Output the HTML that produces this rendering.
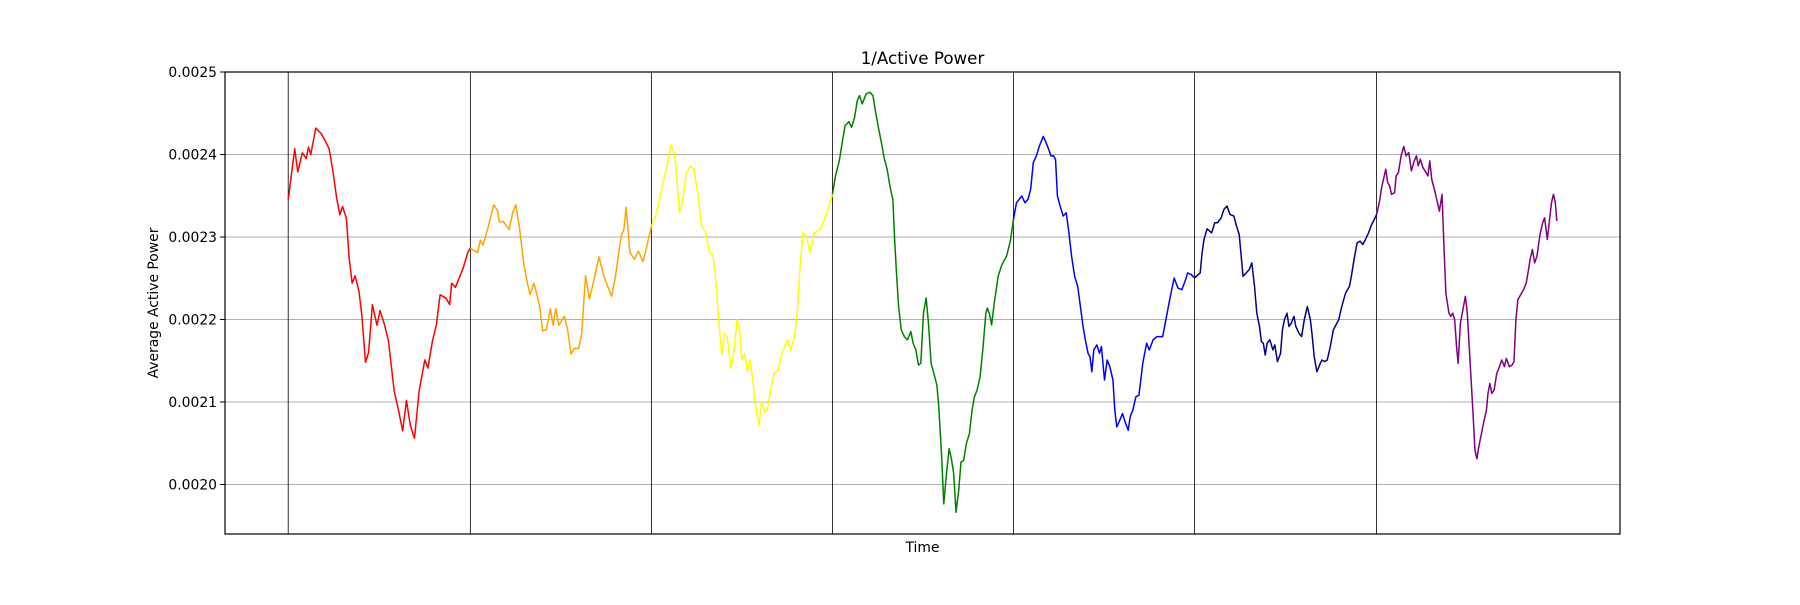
<!DOCTYPE html>
<html><head><meta charset="utf-8"><style>
html,body{margin:0;padding:0;background:#fff;}
svg text{font-family:"DejaVu Sans","Liberation Sans",sans-serif;fill:#000;}
</style></head><body>
<svg id="chart" width="1800" height="600" viewBox="0 0 1800 600" xmlns="http://www.w3.org/2000/svg">
<rect width="1800" height="600" fill="#fff"/>
<text x="922.5" y="64" font-size="16.7" text-anchor="middle">1/Active Power</text>
<text x="922.5" y="552" font-size="13.9" text-anchor="middle">Time</text>
<text transform="translate(158,303) rotate(-90)" font-size="13.9" text-anchor="middle">Average Active Power</text>
<g id="grid"></g><g id="vlines"></g><g id="series"></g><g id="yticks"></g>
<rect x="225" y="72" width="1395" height="462" fill="none" stroke="#000" stroke-width="1.2"/>
</svg>
<script>
const yTicks=[0.0020,0.0021,0.0022,0.0023,0.0024,0.0025];
const yTickLabels=["0.0020","0.0021","0.0022","0.0023","0.0024","0.0025"];
const seriesNames=["red","orange","yellow","green","blue","darkblue","purple"];
const seriesColors=["#ff0000","#ffa500","#ffff00","#008000","#0000ff","#00008b","#800080"];
const periodStarts=[0,476,949,1422,1895,2368,2844];
const seriesOffsets=[-753,-753,815,815,815,2383,2383];
const tRed=[753,770,778,790,800,806,812,825,840,860,870,880,888,895,905,912,920,928,938,945,955,963,973,985,993,1005,1015,1030,1040,1052,1062,1072,1083,1095,1110,1118,1130,1140,1150,1165,1175,1180,1190,1210,1222,1229];
const vRed=[0.002345,0.002407,0.002379,0.002402,0.002395,0.002409,0.0024,0.002432,0.002425,0.002407,0.002379,0.002346,0.002327,0.002337,0.002323,0.002276,0.002244,0.002253,0.002234,0.002207,0.002148,0.00216,0.002218,0.002193,0.002211,0.002193,0.002174,0.002113,0.002093,0.002065,0.002102,0.002072,0.002056,0.002113,0.002151,0.002141,0.002174,0.002193,0.00223,0.002226,0.002218,0.002244,0.002239,0.002262,0.002281,0.002287];
const tOrange=[1229,1248,1255,1262,1275,1290,1300,1305,1315,1330,1340,1348,1358,1368,1378,1385,1395,1403,1410,1418,1428,1438,1445,1452,1460,1475,1483,1492,1500,1512,1520,1530,1540,1550,1565,1578,1588,1598,1608,1623,1630,1636,1646,1658,1668,1680,1688,1702];
const vOrange=[0.0022865,0.002281,0.002296,0.00229,0.002311,0.002339,0.002332,0.002318,0.002319,0.002309,0.00233,0.002339,0.002309,0.002269,0.002244,0.00223,0.002244,0.00223,0.002216,0.002186,0.002188,0.002213,0.002193,0.002213,0.002193,0.002204,0.002188,0.002158,0.002165,0.002165,0.002183,0.002253,0.002225,0.002244,0.002276,0.002252,0.00224,0.002228,0.002252,0.002301,0.002309,0.002336,0.002281,0.002273,0.002283,0.00227,0.002285,0.002313];
const tYellow=[134,145,155,165,175,185,195,202,208,215,225,235,245,255,265,275,285,295,300,310,318,325,332,342,350,358,365,370,378,385,392,400,405,415,422,430,437,445,455,465,475,490,498,508,515,522,530,540,548,560,575,590,607];
const vYellow=[0.0023132,0.0023254,0.0023456,0.002368,0.0023862,0.0024114,0.0024004,0.0023619,0.0023294,0.0023416,0.0023781,0.0023854,0.0023822,0.0023538,0.0023132,0.0023071,0.0022828,0.0022767,0.0022604,0.0021996,0.002157,0.0021834,0.0021793,0.0021408,0.0021631,0.0021996,0.0021874,0.0021509,0.002159,0.0021367,0.0021509,0.0021225,0.0020982,0.0020718,0.0021002,0.002088,0.0020901,0.0021144,0.0021347,0.0021387,0.002159,0.0021753,0.0021631,0.0021793,0.0022077,0.0022604,0.0023051,0.002301,0.0022807,0.0023051,0.0023091,0.0023254,0.0023517];
const tGreen=[607,615,625,632,640,650,657,665,672,678,685,695,705,713,720,728,735,742,750,758,765,770,775,780,787,795,803,812,818,825,832,838,845,852,858,865,872,880,885,893,898,905,912,918,924,930,937,943,950,957,965,972,978,985,993,1000,1008,1012,1018,1023,1030,1040,1050,1062,1072,1080];
const vGreen=[0.0023517,0.002374,0.0023923,0.0024126,0.0024349,0.0024398,0.0024329,0.002445,0.0024653,0.0024714,0.0024613,0.0024734,0.0024755,0.0024714,0.0024511,0.0024308,0.0024146,0.0023963,0.0023822,0.0023598,0.0023456,0.0022929,0.0022523,0.0022158,0.0021874,0.0021793,0.0021753,0.0021854,0.0021712,0.0021631,0.0021448,0.0021469,0.0022077,0.002226,0.0021955,0.0021469,0.0021347,0.0021205,0.0020941,0.0020292,0.0019765,0.002013,0.0020434,0.0020312,0.002013,0.0019663,0.0019927,0.0020272,0.0020292,0.0020495,0.0020617,0.0020901,0.0021063,0.0021144,0.0021306,0.0021631,0.0022077,0.0022138,0.0022057,0.0021935,0.0022199,0.0022523,0.0022665,0.0022767,0.0022949,0.0023213];
const tBlue=[1080,1088,1095,1102,1110,1118,1125,1132,1140,1148,1158,1165,1172,1178,1185,1190,1195,1202,1210,1218,1225,1232,1240,1248,1255,1262,1268,1275,1280,1285,1290,1298,1305,1310,1318,1325,1332,1340,1345,1350,1358,1365,1372,1380,1385,1392,1400,1408,1418,1428,1435,1445,1455,1470,1480,1490,1500,1510,1520,1530,1535,1545,1553];
const vBlue=[0.0023213,0.0023416,0.0023456,0.0023497,0.0023416,0.0023456,0.0023578,0.0023903,0.0023984,0.0024105,0.0024219,0.0024146,0.0024065,0.0023984,0.0023984,0.0023943,0.0023497,0.0023375,0.0023254,0.0023294,0.0023051,0.0022767,0.0022523,0.0022402,0.0022158,0.0021915,0.0021753,0.002159,0.002155,0.0021367,0.0021631,0.0021692,0.002159,0.0021671,0.0021266,0.0021509,0.0021428,0.0021266,0.0020901,0.0020698,0.0020779,0.002086,0.0020759,0.0020657,0.002082,0.0020901,0.0021063,0.0021083,0.0021469,0.0021712,0.0021631,0.0021753,0.0021793,0.0021793,0.0022037,0.002228,0.0022503,0.0022381,0.0022361,0.0022483,0.0022564,0.0022544,0.0022503];
const tNavy=[-15,0,5,10,18,25,30,38,45,55,62,70,78,88,95,102,108,112,120,128,135,142,148,155,160,165,170,175,182,190,195,202,210,215,220,227,232,238,245,250,258,265,272,280,288,292,298,305,312,318,325,332,340,348,355,362,370,380,390,395,402,410,418,425,432,440,448,455,461];
const vNavy=[0.0022503,0.0022564,0.0022807,0.002297,0.0023099,0.0023071,0.0023051,0.0023172,0.0023172,0.0023233,0.0023335,0.0023375,0.0023274,0.0023254,0.0023132,0.002303,0.0022726,0.0022523,0.0022564,0.0022604,0.0022686,0.0022402,0.0022077,0.0021915,0.0021732,0.0021712,0.002157,0.0021712,0.0021753,0.0021631,0.0021692,0.0021489,0.002159,0.0021874,0.0021996,0.0022077,0.0021915,0.0021955,0.0022037,0.0021915,0.0021834,0.0021793,0.0021996,0.0022158,0.0021996,0.0021834,0.002155,0.0021367,0.0021448,0.0021509,0.0021489,0.0021509,0.0021671,0.0021874,0.0021935,0.0021996,0.0022158,0.002232,0.0022402,0.0022523,0.0022726,0.0022929,0.0022949,0.0022909,0.002297,0.0023051,0.0023152,0.0023213,0.0023274];
const tPurple=[461,468,475,480,485,490,495,500,508,512,518,525,532,538,545,552,558,565,570,575,582,590,595,600,605,612,618,625,632,637,642,650,655,660,665,670,674,680,688,693,698,703,708,713,718,723,728,735,742,748,752,757,762,768,775,782,788,795,800,808,815,820,825,830,835,845,852,858,862,868,874,880,888,895,900,907,912,918,923,928,932];
const vPurple=[0.0023274,0.0023416,0.0023619,0.002372,0.0023822,0.0023659,0.0023619,0.0023517,0.0023538,0.002374,0.0023781,0.0023984,0.0024097,0.0023984,0.0024024,0.0023801,0.0023903,0.0023984,0.0023862,0.0023943,0.0023842,0.0023781,0.002374,0.0023923,0.00237,0.0023578,0.0023456,0.0023314,0.0023517,0.0022888,0.002232,0.0022077,0.0022037,0.0022077,0.0021996,0.0021671,0.0021469,0.0021955,0.0022158,0.002228,0.0022077,0.0021671,0.0021266,0.002086,0.0020414,0.0020312,0.0020454,0.0020617,0.0020779,0.0020901,0.0021103,0.0021225,0.0021103,0.0021144,0.0021347,0.0021428,0.0021509,0.0021428,0.0021529,0.0021428,0.0021448,0.0021489,0.0021996,0.0022239,0.002228,0.0022361,0.0022442,0.0022604,0.0022726,0.0022848,0.0022686,0.0022767,0.002303,0.0023172,0.0023233,0.002297,0.0023172,0.0023416,0.0023517,0.0023416,0.0023193];
const seriesTimes=[tRed,tOrange,tYellow,tGreen,tBlue,tNavy,tPurple];
const seriesValues=[vRed,vOrange,vYellow,vGreen,vBlue,vNavy,vPurple];

const NS="http://www.w3.org/2000/svg";
const X0=225,X1=1620,Y0=72,Y1=534;
const yMin=0.00194,yMax=0.0025;
const x0px=288.2,pxPerT=0.3827;
function xScale(t){return x0px+t*pxPerT;}
function yScale(v){return Y1-(v-yMin)/(yMax-yMin)*(Y1-Y0);}

const grid=document.getElementById('grid'),yt=document.getElementById('yticks');
yTicks.forEach((v,i)=>{
  const y=yScale(v);
  const g=document.createElementNS(NS,'line');
  g.setAttribute('x1',X0);g.setAttribute('x2',X1);g.setAttribute('y1',y);g.setAttribute('y2',y);
  g.setAttribute('stroke','#b0b0b0');g.setAttribute('stroke-width','1');
  
  
  grid.appendChild(g);
  const tk=document.createElementNS(NS,'line');
  tk.setAttribute('x1',X0-4.9);tk.setAttribute('x2',X0);tk.setAttribute('y1',y);tk.setAttribute('y2',y);
  tk.setAttribute('stroke','#000');tk.setAttribute('stroke-width','1');
  
  
  yt.appendChild(tk);
  const tx=document.createElementNS(NS,'text');
  tx.setAttribute('x',X0-8);tx.setAttribute('y',y+5);tx.setAttribute('font-size','13.9');tx.setAttribute('text-anchor','end');
  tx.textContent=yTickLabels[i];
  
  
  yt.appendChild(tx);
});
const vl=document.getElementById('vlines');
periodStarts.forEach(t=>{
  const x=xScale(t);
  const l=document.createElementNS(NS,'line');
  l.setAttribute('x1',x);l.setAttribute('x2',x);l.setAttribute('y1',Y0);l.setAttribute('y2',Y1);
  l.setAttribute('stroke','#000');l.setAttribute('stroke-width','0.8');
  
  
  vl.appendChild(l);
});
const sg=document.getElementById('series');
seriesTimes.forEach((ts,k)=>{
  const vs=seriesValues[k];
  const d=ts.map((t,i)=>(i?'L':'M')+xScale(t+seriesOffsets[k]).toFixed(2)+' '+yScale(vs[i]).toFixed(2)).join(' ');
  const p=document.createElementNS(NS,'path');
  p.setAttribute('d',d);p.setAttribute('fill','none');p.setAttribute('stroke',seriesColors[k]);
  p.setAttribute('stroke-width','1.5');p.setAttribute('stroke-linejoin','round');
  
  
  sg.appendChild(p);
});
</script>
</body></html>
